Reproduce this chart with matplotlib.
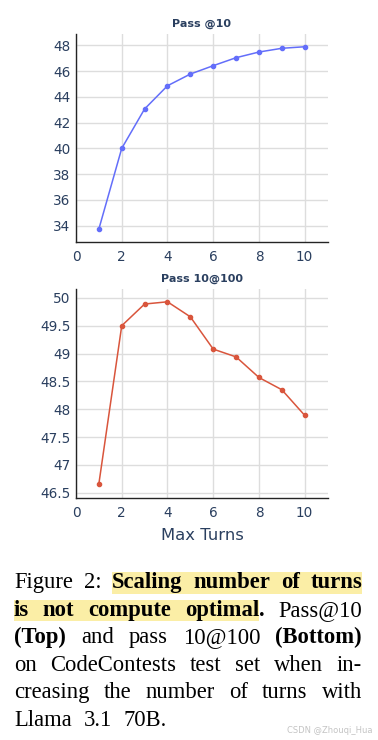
import matplotlib
matplotlib.use("Agg")
import matplotlib.pyplot as plt
from matplotlib.ticker import FuncFormatter
from matplotlib.patches import Rectangle

# ---------------- data ----------------
turns = [1, 2, 3, 4, 5, 6, 7, 8, 9, 10]
pass_at_10 = [33.74, 40.0, 43.06, 44.86, 45.77, 46.42, 47.04, 47.48, 47.77, 47.89]
pass_10_at_100 = [46.66, 49.50, 49.89, 49.93, 49.66, 49.08, 48.94, 48.57, 48.35, 47.89]
x_ticks = [0, 2, 4, 6, 8, 10]
top_yticks = [34, 36, 38, 40, 42, 44, 46, 48]
bot_yticks = [46.5, 47, 47.5, 48, 48.5, 49, 49.5, 50]
top_title = "Pass @10"
bot_title = "Pass 10@100"
x_label = "Max Turns"

W, H = 378, 740
fig = plt.figure(figsize=(W / 100, H / 100), dpi=100)
fig.patch.set_facecolor("white")

TICK_COLOR = "#2a3f5f"
GRID_COLOR = "#dddddd"


def px_rect(left, top, right, bottom):
    return [left / W, 1 - bottom / H, (right - left) / W, (bottom - top) / H]


def fmt(v, pos):
    if abs(v - round(v)) < 1e-9:
        return str(int(round(v)))
    return ("%g" % v)


def style(ax, yticks, ylim, title):
    ax.set_xlim(0, 11.02)
    ax.set_ylim(*ylim)
    ax.set_xticks(x_ticks)
    ax.set_yticks(yticks)
    ax.yaxis.set_major_formatter(FuncFormatter(fmt))
    ax.grid(True, color=GRID_COLOR, linewidth=1.0)
    ax.set_axisbelow(True)
    for s in ["top", "right"]:
        ax.spines[s].set_visible(False)
    for s in ["left", "bottom"]:
        ax.spines[s].set_color("#242424")
        ax.spines[s].set_linewidth(1.0)
    ax.tick_params(length=0, labelsize=9.8, labelcolor=TICK_COLOR)
    ax.tick_params(axis="y", pad=4)
    ax.tick_params(axis="x", pad=6)
    ax.set_title(title, fontsize=8, fontweight="bold", color=TICK_COLOR, pad=5)


ax1 = fig.add_axes(px_rect(76, 34, 328, 242))
ax1.plot(turns, pass_at_10, color="#636efa", linewidth=1.1, marker="o", markersize=3)
style(ax1, top_yticks, (32.73, 48.88), top_title)

ax2 = fig.add_axes(px_rect(76, 289, 328, 497.7))
ax2.plot(turns, pass_10_at_100, color="#d9553c", linewidth=1.1, marker="o", markersize=3)
style(ax2, bot_yticks, (46.41, 50.16), bot_title)
ax2.set_xlabel(x_label, fontsize=11.8, color=TICK_COLOR, labelpad=6)

# ---------------- caption (justified) ----------------
caption_lines = [
    [[("Figure", False, False)], [("2:", False, False)],
     [("Scaling", True, True)], [("number", True, True)], [("of", True, True)], [("turns", True, True)]],
    [[("is", True, True)], [("not", True, True)], [("compute", True, True)],
     [("optimal", True, True), (".", True, False)], [("Pass@10", False, False)]],
    [[("(Top)", True, False)], [("and", False, False)], [("pass", False, False)],
     [("10@100", False, False)], [("(Bottom)", True, False)]],
    [[("on", False, False)], [("CodeContests", False, False)], [("test", False, False)],
     [("set", False, False)], [("when", False, False)], [("in-", False, False)]],
    [[("creasing", False, False)], [("the", False, False)], [("number", False, False)],
     [("of", False, False)], [("turns", False, False)], [("with", False, False)]],
    [[("Llama", False, False)], [("3.1", False, False)], [("70B.", False, False)]],
]
line_right = [362.0, 362.0, 362.0, 362.0, 362.0, 167.0]

CAP_FONT = "Liberation Serif"
CAP_SIZE = 16.3
LEFT = 14.0
BASE0, LINE_STEP = 588.0, 27.6
HIGHLIGHT = "#fbeea6"

fig.canvas.draw()
renderer = fig.canvas.get_renderer()


def make_text(s, bold):
    return fig.text(0, 0, s, fontsize=CAP_SIZE, family=CAP_FONT,
                    fontweight="bold" if bold else "normal",
                    color="black", va="baseline", ha="left",
                    transform=fig.transFigure)


for li, line in enumerate(caption_lines):
    base = BASE0 + li * LINE_STEP
    words = []
    total = 0.0
    for word in line:
        segs = []
        ww = 0.0
        for (s, bold, hl) in word:
            t = make_text(s, bold)
            w = t.get_window_extent(renderer).width
            segs.append((t, w, hl))
            ww += w
        words.append((segs, ww))
        total += ww
    n = len(words)
    gap = (line_right[li] - LEFT - total) / (n - 1)
    x = LEFT
    hl_start, hl_end = None, None
    for wi, (segs, ww) in enumerate(words):
        for (t, w, hl) in segs:
            t.set_position((x / W, 1 - base / H))
            if hl:
                if hl_start is None:
                    hl_start = x
                hl_end = x + w
            x += w
        x += gap
    if hl_start is not None:
        fig.patches.append(Rectangle((hl_start / W, 1 - (base + 5.5) / H),
                                     (hl_end - hl_start) / W, 21.5 / H,
                                     transform=fig.transFigure, facecolor=HIGHLIGHT,
                                     edgecolor="none", zorder=0))

fig.text(287 / W, 1 - 732.7 / H, "CSDN @Zhouqi_Hua", fontsize=6.0,
         color="#c4c4c4", va="baseline", ha="left")

fig.savefig("out.png", dpi=100, facecolor="white")
